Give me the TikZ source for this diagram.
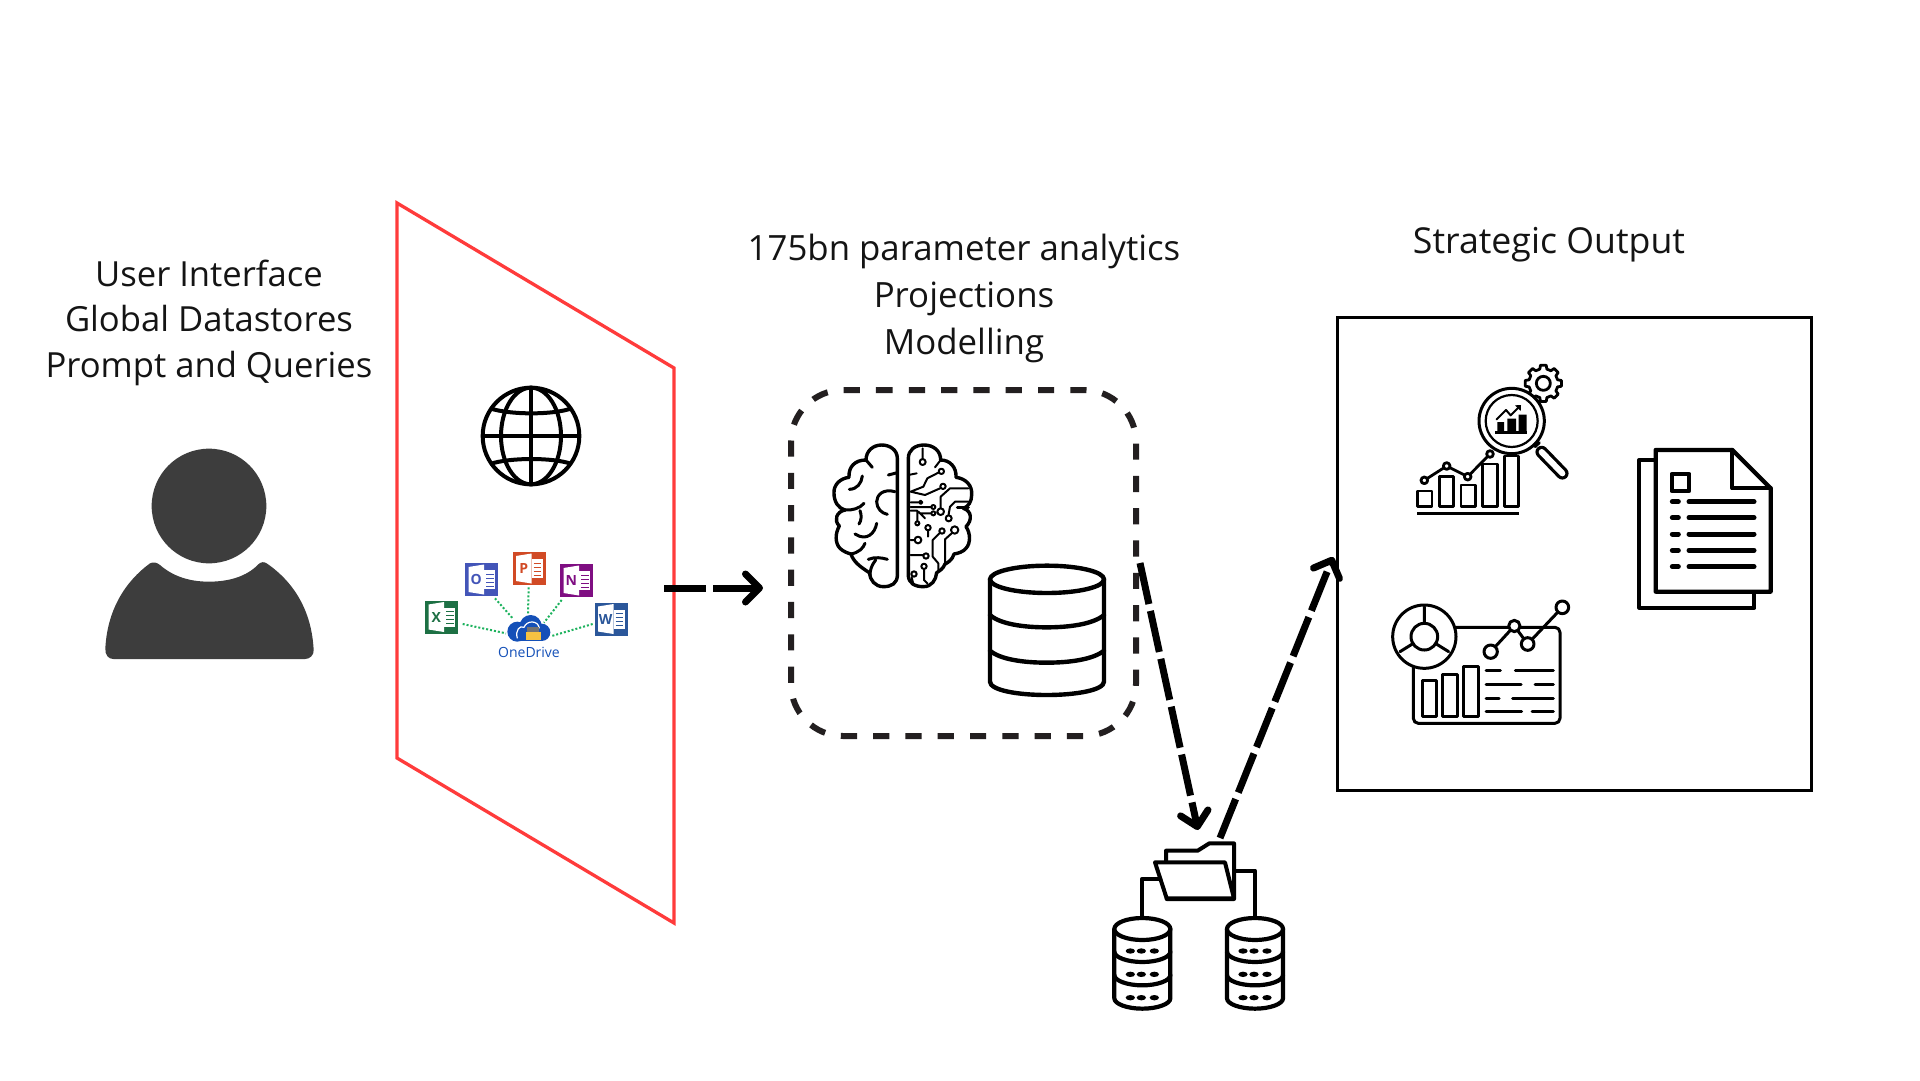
\documentclass[tikz,border=0pt]{standalone}
\usepackage{fontspec}
\setmainfont{Open Sans}
\usetikzlibrary{arrows.meta}
\definecolor{persongray}{HTML}{3D3D3D}
\definecolor{dashgray}{HTML}{231F20}
\definecolor{redline}{HTML}{FF3B3B}
\definecolor{xlgreen}{HTML}{1D7044}
\definecolor{olblue}{HTML}{4355B8}
\definecolor{pporange}{HTML}{D14A25}
\definecolor{onpurple}{HTML}{7F0E82}
\definecolor{wdblue}{HTML}{2B579A}
\definecolor{odblue}{HTML}{1450B8}
\definecolor{dotgreen}{HTML}{1CB25D}
\definecolor{odyellow}{HTML}{F5C242}
\tikzset{
  label text/.style={align=center,text=black!92,inner sep=0pt},
  flow/.style={line width=7pt,dash pattern=on 42pt off 7pt,
    -{Straight Barb[length=14pt,width=28pt,line width=7pt,round,line cap=round]}},
  zoomed/.style={x=.33333pt,y=-.33333pt},
  ink/.style={line join=round,line cap=round},
  officeicon/.style={minimum size=33pt,inner sep=0pt,outer sep=0pt},
  dotlink/.style={dotgreen,line width=2pt,dash pattern=on 2pt off 2pt},
}
\newcommand{\officepage}[3]{% name, colour, letter
  \fill[white] ([xshift=3.5pt,yshift=-4pt]#1.north west) -- ([xshift=19pt,yshift=-1.5pt]#1.north west)
     -- ([xshift=19pt,yshift=-31.5pt]#1.north west) -- ([xshift=3.5pt,yshift=-29pt]#1.north west) -- cycle;
  \fill[white] ([xshift=19pt,yshift=-7pt]#1.north west) rectangle ([xshift=30pt,yshift=-26pt]#1.north west);
  \foreach \dy in {-11,-15,-19,-23}
    \draw[#2,line width=.9pt] ([xshift=21pt,yshift=\dy pt]#1.north west) -- ([xshift=28.5pt,yshift=\dy pt]#1.north west);
  \node[text=#2,inner sep=0pt,font=\bfseries\fontsize{14}{14}\selectfont] at ([xshift=11.2pt,yshift=-16.5pt]#1.north west) {#3};
}
\newcommand{\servercan}[1]{% centre x in zoom coordinates
  \begin{scope}[xshift=#1*.33333pt]
    \draw[ink,line width=4.2pt,fill=white] (-84,327) -- (-84,535) .. controls (-84,552) and (-45,566) .. (0,566)
       .. controls (45,566) and (84,552) .. (84,535) -- (84,327);
    \draw[ink,line width=4.2pt,fill=white] (0,327) ellipse (84 and 33);
    \draw[ink,line width=4.2pt] (-84,395) .. controls (-84,412) and (-45,426) .. (0,426) .. controls (45,426) and (84,412) .. (84,395);
    \draw[ink,line width=4.2pt] (-84,465) .. controls (-84,482) and (-45,496) .. (0,496) .. controls (45,496) and (84,482) .. (84,465);
    \foreach \yy in {393,463,533}
      \foreach \xx in {-36,-3,36}
        \fill (\xx,\yy) ellipse (14 and 8);
  \end{scope}
}
\begin{document}
\begin{tikzpicture}[x=1pt,y=-1pt]
\useasboundingbox (0,0) rectangle (1920,1080);
\fill[white] (0,0) rectangle (1920,1080);

% ---- texts
\node[label text,font=\fontsize{34.6}{45.5}\selectfont] (uitext) at (209,322.5) {User Interface\\Global Datastores\\Prompt and Queries};
\node[label text,font=\fontsize{34.8}{47}\selectfont] (aitext) at (964,298.5) {175bn parameter analytics\\Projections\\Modelling};
\node[label text,font=\fontsize{35.7}{46}\selectfont] (outtext) at (1549,244.5) {Strategic Output};

% ---- person
\begin{scope}[shift={(90,430)},zoomed]
  \fill[persongray] (357,228) circle (172);
  \fill[persongray] (210,405) .. controls (250,440) and (300,455) .. (357,455)
    .. controls (415,455) and (470,440) .. (505,403) .. controls (512,396) and (522,394) .. (530,400)
    .. controls (610,455) and (665,540) .. (671,660) .. controls (672,675) and (660,687) .. (645,687)
    -- (70,687) .. controls (55,687) and (45,675) .. (46,655)
    .. controls (52,540) and (105,455) .. (180,400) .. controls (190,395) and (200,397) .. (210,405) -- cycle;
\end{scope}

% ---- red plane
\draw[redline,line width=3.3pt,line join=miter] (397,203) -- (674,368) -- (674,923) -- (397,758) -- cycle;

% ---- globe
\begin{scope}[shift={(400,370)},zoomed]
  \draw[line width=4pt] (393,198) circle (145);
  \draw[line width=4pt] (393,198) ellipse (90 and 145);
  \draw[line width=4pt] (393,53) -- (393,343) (248,198) -- (538,198);
  \draw[line width=4pt] (270,115) .. controls (330,135) and (460,135) .. (515,115);
  \draw[line width=4pt] (270,282) .. controls (330,262) and (460,262) .. (515,282);
\end{scope}

% ---- office icons
\node[officeicon,fill=xlgreen] (xl) at (441.5,617) {};
\node[officeicon,fill=olblue] (ol) at (481.5,579.5) {};
\node[officeicon,fill=pporange] (pp) at (529,568.5) {};
\node[officeicon,fill=onpurple] (on) at (576.5,580.5) {};
\node[officeicon,fill=wdblue] (wd) at (611,619) {};
\officepage{xl}{xlgreen}{X}
\officepage{ol}{olblue}{O}
\officepage{pp}{pporange}{P}
\officepage{on}{onpurple}{N}
\officepage{wd}{wdblue}{W}
\begin{scope}[shift={(400,370)},zoomed]
  \coordinate (dxl1) at (188,762); \coordinate (dxl2) at (318,790);
  \coordinate (dol1) at (285,685); \coordinate (dol2) at (338,745);
  \coordinate (dpp1) at (386,652); \coordinate (dpp2) at (384,732);
  \coordinate (don1) at (485,690); \coordinate (don2) at (432,758);
  \coordinate (dwd1) at (578,762); \coordinate (dwd2) at (455,798);
  \fill[odblue] (352,785) circle (30) (392,768) circle (33) (425,787) circle (26);
  \fill[odblue] (340,785) rectangle (430,813);
  \draw[white,line width=1.2pt] (352,805) .. controls (345,780) and (360,765) .. (372,772)
     .. controls (380,750) and (415,750) .. (418,775);
  \fill[odyellow] (377,785) rectangle (422,809);
  \fill[black!55] (382,772) rectangle (418,785);
  \node[text=odblue,inner sep=0pt,font=\fontsize{14}{14}\selectfont] (odlabel) at (387,847) {OneDrive};
\end{scope}
\draw[dotlink] (dxl1) -- (dxl2);
\draw[dotlink] (dol1) -- (dol2);
\draw[dotlink] (dpp1) -- (dpp2);
\draw[dotlink] (don1) -- (don2);
\draw[dotlink] (dwd1) -- (dwd2);

% ---- dashed AI box
\draw[dashgray,line width=6pt,dash pattern=on 16.2pt off 16.1pt,rounded corners=52pt]
  (876.5,390) -- (1136,390) -- (1136,736) -- (791,736) -- (791,390) -- (876.5,390);

% ---- brain
\begin{scope}[shift={(780,380)},zoomed,ink]
  \draw[line width=3.4pt]
    (352,590) -- (352,235) .. controls (352,210) and (330,195) .. (305,195)
    .. controls (280,195) and (258,212) .. (258,240)
    .. controls (225,240) and (205,260) .. (207,292)
    .. controls (180,295) and (160,315) .. (162,340)
    .. controls (162,365) and (175,385) .. (195,390)
    .. controls (170,395) and (160,420) .. (178,438)
    .. controls (165,460) and (165,490) .. (180,505)
    .. controls (190,515) and (205,520) .. (213,522)
    .. controls (220,545) and (240,560) .. (268,578)
    .. controls (270,600) and (285,620) .. (310,620)
    .. controls (335,620) and (352,610) .. (352,585);
  \draw[line width=3pt]
    (258,240) -- (277,262)
    (325,285) -- (352,278)
    (247,288) .. controls (245,310) and (230,328) .. (208,328)
    (195,390) .. controls (215,392) and (240,385) .. (252,370)
    (240,392) .. controls (245,405) and (245,420) .. (237,432)
    (345,335) .. controls (310,325) and (290,345) .. (290,365) .. controls (290,385) and (305,400) .. (322,403)
    (290,430) .. controls (285,460) and (260,485) .. (225,462)
    (213,522) .. controls (235,518) and (250,505) .. (255,490)
    (265,538) .. controls (285,530) and (305,533) .. (322,538)
    (287,540) .. controls (275,555) and (270,570) .. (270,585);
  \draw[line width=3.4pt]
    (385,590) -- (385,235) .. controls (385,210) and (405,195) .. (432,195)
    .. controls (460,195) and (482,212) .. (482,240)
    .. controls (510,240) and (530,262) .. (528,292)
    .. controls (555,295) and (578,315) .. (575,345)
    .. controls (575,365) and (565,380) .. (550,385)
    .. controls (575,392) and (578,420) .. (558,440)
    .. controls (572,460) and (572,490) .. (558,505)
    .. controls (550,515) and (535,520) .. (522,522)
    .. controls (518,540) and (500,550) .. (495,552)
    .. controls (490,565) and (480,572) .. (470,578)
    .. controls (468,600) and (455,620) .. (430,620)
    .. controls (405,620) and (385,610) .. (385,585);
  \draw[line width=2pt]
    (385,285) -- (410,280)
    (482,240) -- (465,262)
    (428,205) -- (428,238)
    (392,335) -- (430,320) -- (442,295) -- (475,278)
    (392,335) -- (435,345) -- (480,325)
    (482,385) -- (482,350) -- (510,325) -- (565,325)
    (505,408) -- (510,380) -- (525,365) -- (565,365)
    (392,367) -- (415,367)
    (392,381) -- (452,381)
    (392,392) -- (412,392) -- (412,422)
    (415,395) -- (435,415)
    (420,400) -- (452,400)
    (444,452) -- (444,470)
    (392,480) -- (405,480)
    (392,525) -- (430,525)
    (478,460) -- (458,480) -- (458,530) -- (475,550) -- (475,572)
    (515,460) -- (495,478) -- (495,552)
    (432,568) -- (432,600) -- (442,610)
    (395,592) -- (400,612);
  \draw[line width=3pt] (532,383) -- (565,383);
  \draw[line width=2pt,fill=white]
    (428,246) circle (9) (484,274) circle (8) (489,319) circle (8) (482,395) circle (10)
    (506,415) circle (9) (422,367) circle (5) (460,381) circle (6) (412,430) circle (6)
    (460,400) circle (6) (444,443) circle (8) (414,480) circle (10) (438,528) circle (8)
    (486,453) circle (8) (524,450) circle (11) (432,559) circle (8) (402,582) circle (8);
\end{scope}

% ---- big database
\begin{scope}[shift={(780,380)},zoomed,ink]
  \draw[line width=4.4pt] (630,598) -- (630,905) .. controls (630,930) and (710,945) .. (800,945)
     .. controls (890,945) and (972,930) .. (972,905) -- (972,598);
  \draw[line width=4.4pt] (801,598) ellipse (171 and 41);
  \draw[line width=4.4pt] (630,705) .. controls (660,732) and (730,742) .. (800,742) .. controls (870,742) and (940,732) .. (972,705);
  \draw[line width=4.4pt] (630,812) .. controls (660,838) and (730,848) .. (800,848) .. controls (870,848) and (940,838) .. (972,812);
\end{scope}

% ---- output box
\node[draw=black,line width=3pt,minimum width=474pt,minimum height=473pt,inner sep=0pt] (outbox) at (1574,553.5) {};

% ---- analytics icon
\begin{scope}[shift={(1380,350)},zoomed,ink]
  % gear
  \begin{scope}[shift={(490,100)}]
    \draw[line width=2.8pt,fill=white,line join=round]
      (-14:44) \foreach \a in {0,45,...,315} { -- (\a-14:44) -- (\a-9:55) -- (\a+9:55) -- (\a+14:44) } -- cycle;
    \draw[line width=2.8pt] (0,0) circle (21);
  \end{scope}
  % bars
  \draw[line width=2.8pt] (113,423) rectangle (156,470) (178,380) rectangle (221,470)
     (243,405) rectangle (287,470) (307,342) rectangle (352,470) (373,318) rectangle (415,470);
  \draw[line width=2.8pt,line cap=butt] (112,490) -- (418,490);
  \draw[line width=2.8pt] (133,391) -- (200,348) -- (263,380) -- (330,312);
  \draw[line width=2.8pt,fill=white] (133,391) circle (10) (200,348) circle (10) (263,380) circle (10) (330,312) circle (10);
  % handle
  \draw[line width=12.5pt,line cap=round] (485,306) -- (547,370);
  \draw[line width=6pt,white,line cap=round] (485,306) -- (547,370);
  \draw[line width=3pt] (465,290) -- (478,278);
  % lens
  \draw[line width=3pt,fill=white] (395,213) circle (98);
  \draw[line width=2.2pt] (395,213) circle (78);
  \fill (352,216) rectangle (372,245) (382,206) rectangle (408,245) (416,194) rectangle (440,245);
  \draw[line width=2.5pt,line cap=butt] (345,248) -- (442,248);
  \draw[line width=2pt] (350,208) -- (378,180) -- (392,196) -- (418,170);
  \fill (405,166) -- (423,165) -- (422,183) -- cycle;
\end{scope}

% ---- document icon
\begin{scope}[shift={(1380,350)},zoomed,ink]
  \draw[line width=4.3pt] (822,330) -- (778,330) -- (778,773) -- (1123,773) -- (1123,725);
  \draw[line width=4.3pt,fill=white] (827,300) -- (1057,300) -- (1172,415) -- (1172,725) -- (827,725) -- cycle;
  \draw[line width=4.3pt] (1057,300) -- (1057,415) -- (1172,415);
  \draw[line width=4pt] (875,372) rectangle (928,423);
  \foreach \yy in {455,503,552,601,650} {
    \draw[line width=5pt] (877,\yy) -- (895,\yy);
    \draw[line width=5pt] (927,\yy) -- (1122,\yy);
  }
\end{scope}

% ---- dashboard icon
\begin{scope}[shift={(1380,350)},zoomed,ink]
  \draw[line width=3pt,rounded corners=5pt] (100,832) rectangle (540,1120);
  \draw[line width=3pt,fill=white] (133,860) circle (95);
  \draw[line width=3pt] (133,860) circle (40);
  \draw[line width=3pt] (133,770) -- (133,820) (60,905) -- (97,882) (206,905) -- (169,882);
  \draw[line width=3pt] (127,990) rectangle (170,1098) (188,972) rectangle (232,1098) (250,948) rectangle (294,1098);
  \draw[line width=3pt] (318,961) -- (361,961) (406,961) -- (520,961)
    (318,1002) -- (423,1002) (465,1002) -- (520,1002)
    (318,1044) -- (357,1044) (398,1044) -- (520,1044)
    (318,1085) -- (425,1085) (456,1085) -- (520,1085);
  \draw[line width=3pt] (332,905) -- (403,828) -- (443,882) -- (547,772);
  \draw[line width=3pt,fill=white] (332,905) circle (20) (403,828) circle (17) (443,882) circle (19) (547,772) circle (19);
\end{scope}

% ---- folder with two servers
\begin{scope}[shift={(1090,820)},zoomed,ink]
  \draw[line width=4pt] (210,178) -- (155,178) -- (155,295);
  \draw[line width=4pt] (438,152) -- (495,152) -- (495,295);
  \draw[line width=4pt,fill=white] (228,125) -- (228,92) -- (323,92) -- (358,70) -- (432,70) -- (432,237) -- (230,237);
  \draw[line width=4pt,fill=white] (195,127) -- (405,127) -- (432,235) -- (230,235) -- cycle;
  \servercan{157}
  \servercan{495}
\end{scope}

% ---- flow arrows
\coordinate (a1s) at (664,588);
\coordinate (a1e) at (763,588);
\draw[flow] (a1s) -- (a1e);
\coordinate (a2s) at (1140,563);
\coordinate (a2e) at (1198,830);
\draw[flow] (a2s) -- (a2e);
\coordinate (a3s) at (1220,838);
\coordinate (a3e) at (1333,557);
\draw[flow] (a3s) -- (a3e);
\end{tikzpicture}
\end{document}
